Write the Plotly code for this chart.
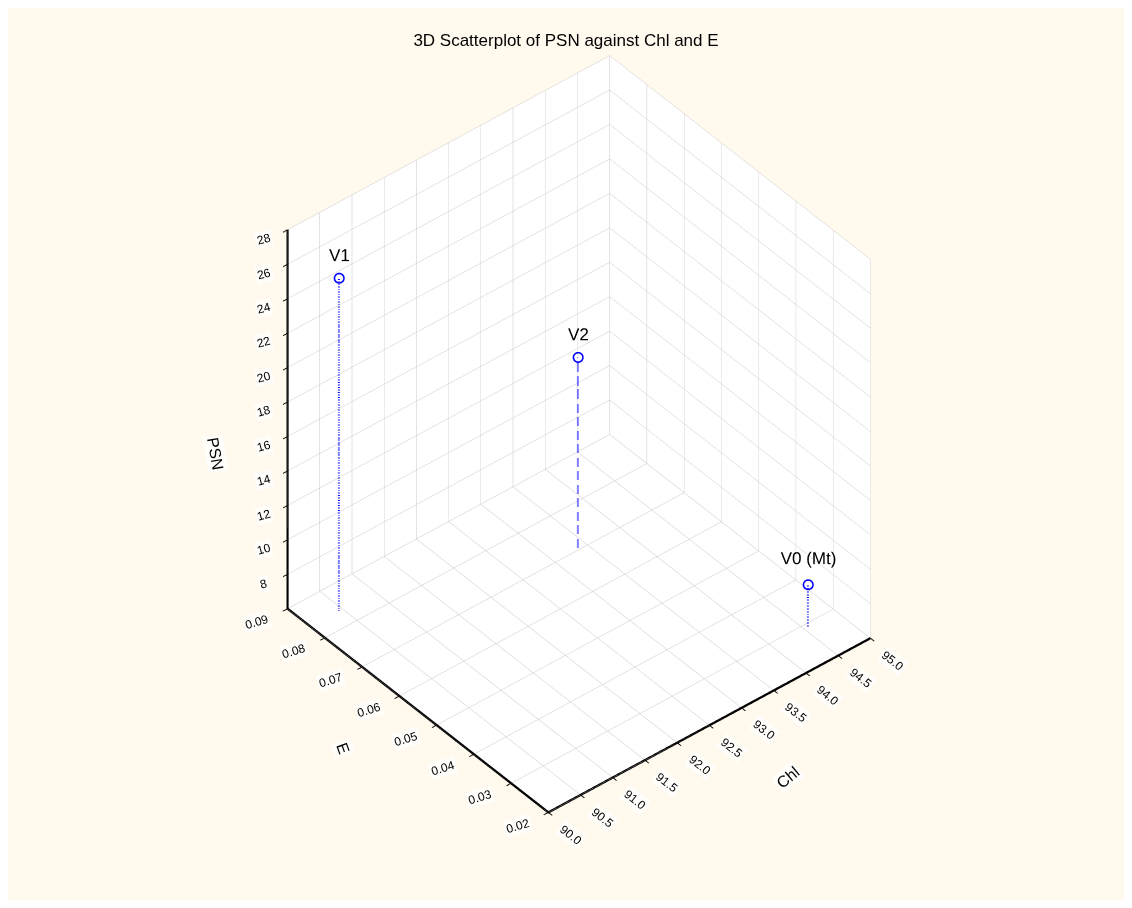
import plotly.graph_objects as go

# Data
labels = ["V0 (Mt)", "V1", "V2"]
chl = [94.55, 90.45, 93.35]
e_vals = [0.029, 0.084, 0.070]
psn = [8.5, 25.3, 17.2]

chl_ticks = [90.0, 90.5, 91.0, 91.5, 92.0, 92.5, 93.0, 93.5, 94.0, 94.5, 95.0]
e_ticks = [0.02, 0.03, 0.04, 0.05, 0.06, 0.07, 0.08, 0.09]
psn_ticks = [6, 8, 10, 12, 14, 16, 18, 20, 22, 24, 26, 28]
chl_min, chl_max = 90.0, 95.0
e_min, e_max = 0.02, 0.09
psn_min, psn_max = 6, 28

FONT = "Liberation Sans, Arial"

fig = go.Figure()

# drop lines to the floor
for x, y, z in zip(chl, e_vals, psn):
    fig.add_trace(go.Scatter3d(
        x=[x, x], y=[y, y], z=[psn_min, z], mode="lines",
        line=dict(color="#0000FF", width=4, dash="dot"),
        showlegend=False, hoverinfo="skip"))

fig.add_trace(go.Scatter3d(
    x=chl, y=e_vals, z=psn, mode="markers+text", text=labels,
    textposition="top center",
    textfont=dict(family=FONT, size=17, color="black"),
    marker=dict(symbol="circle-open", size=6, color="#0000FF", line=dict(width=3, color="#0000FF")),
    showlegend=False))

axis_common = dict(
    showbackground=True, backgroundcolor="white",
    gridcolor="#c9c9c9", gridwidth=1,
    showline=True, linecolor="black", linewidth=5,
    ticks="outside", tickcolor="black", ticklen=6, tickwidth=2,
    showticklabels=False,
    zeroline=False, showspikes=False,
)

tick_font = dict(family=FONT, size=12, color="black")
label_bg = "rgba(255,255,255,0.75)"
annotations = []
for t in chl_ticks:
    annotations.append(dict(x=t, y=e_min, z=psn_min, text=f"{t:.1f}", showarrow=False,
                            xshift=22, yshift=-22, textangle=38, font=tick_font, bgcolor=label_bg))
for t in e_ticks:
    annotations.append(dict(x=chl_min, y=t, z=psn_min, text=f"{t:.2f}", showarrow=False,
                            xshift=-31, yshift=-13, textangle=-17, font=tick_font, bgcolor=label_bg))
for t in psn_ticks[1:]:
    annotations.append(dict(x=chl_min, y=e_max, z=t, text=f"{t}", showarrow=False,
                            xshift=-24, yshift=-9, textangle=-15, font=tick_font, bgcolor=label_bg))
title_font = dict(family=FONT, size=16, color="black")
annotations += [
    dict(x=chl_min, y=e_max, z=15.0, text="PSN", showarrow=False, xshift=-72, yshift=0,
         textangle=80, font=title_font, bgcolor=label_bg),
    dict(x=chl_min, y=0.055, z=psn_min, text="E", showarrow=False, xshift=-75, yshift=-37,
         textangle=70, font=title_font, bgcolor=label_bg),
    dict(x=93.2, y=e_min, z=psn_min, text="Chl", showarrow=False, xshift=33, yshift=-76,
         textangle=-40, font=title_font, bgcolor=label_bg),
]

R = 2.15
fig.update_layout(
    width=1116, height=892,
    paper_bgcolor="#FFF9EE",
    margin=dict(l=0, r=0, t=0, b=0),
    title=dict(text="3D Scatterplot of PSN against Chl and E", x=0.5, xanchor="center",
               y=0.964, yanchor="middle",
               font=dict(family=FONT, size=17, color="black")),
    scene=dict(
        domain=dict(x=[0.062, 0.962], y=[0.052, 0.992]),
        xaxis=dict(title=dict(text=""), range=[chl_min, chl_max], tickvals=chl_ticks, **axis_common),
        yaxis=dict(title=dict(text=""), range=[e_min, e_max], tickvals=e_ticks, **axis_common),
        zaxis=dict(title=dict(text=""), range=[psn_min, psn_max], tickvals=psn_ticks, **axis_common),
        aspectmode="manual", aspectratio=dict(x=1, y=0.973, z=1.19),
        camera=dict(eye=dict(x=-0.486 * R, y=-0.584 * R, z=0.650 * R),
                    center=dict(x=0, y=0, z=0),
                    up=dict(x=0, y=0, z=1),
                    projection=dict(type="orthographic")),
        annotations=annotations,
    ),
)

fig.write_html("out.html")
